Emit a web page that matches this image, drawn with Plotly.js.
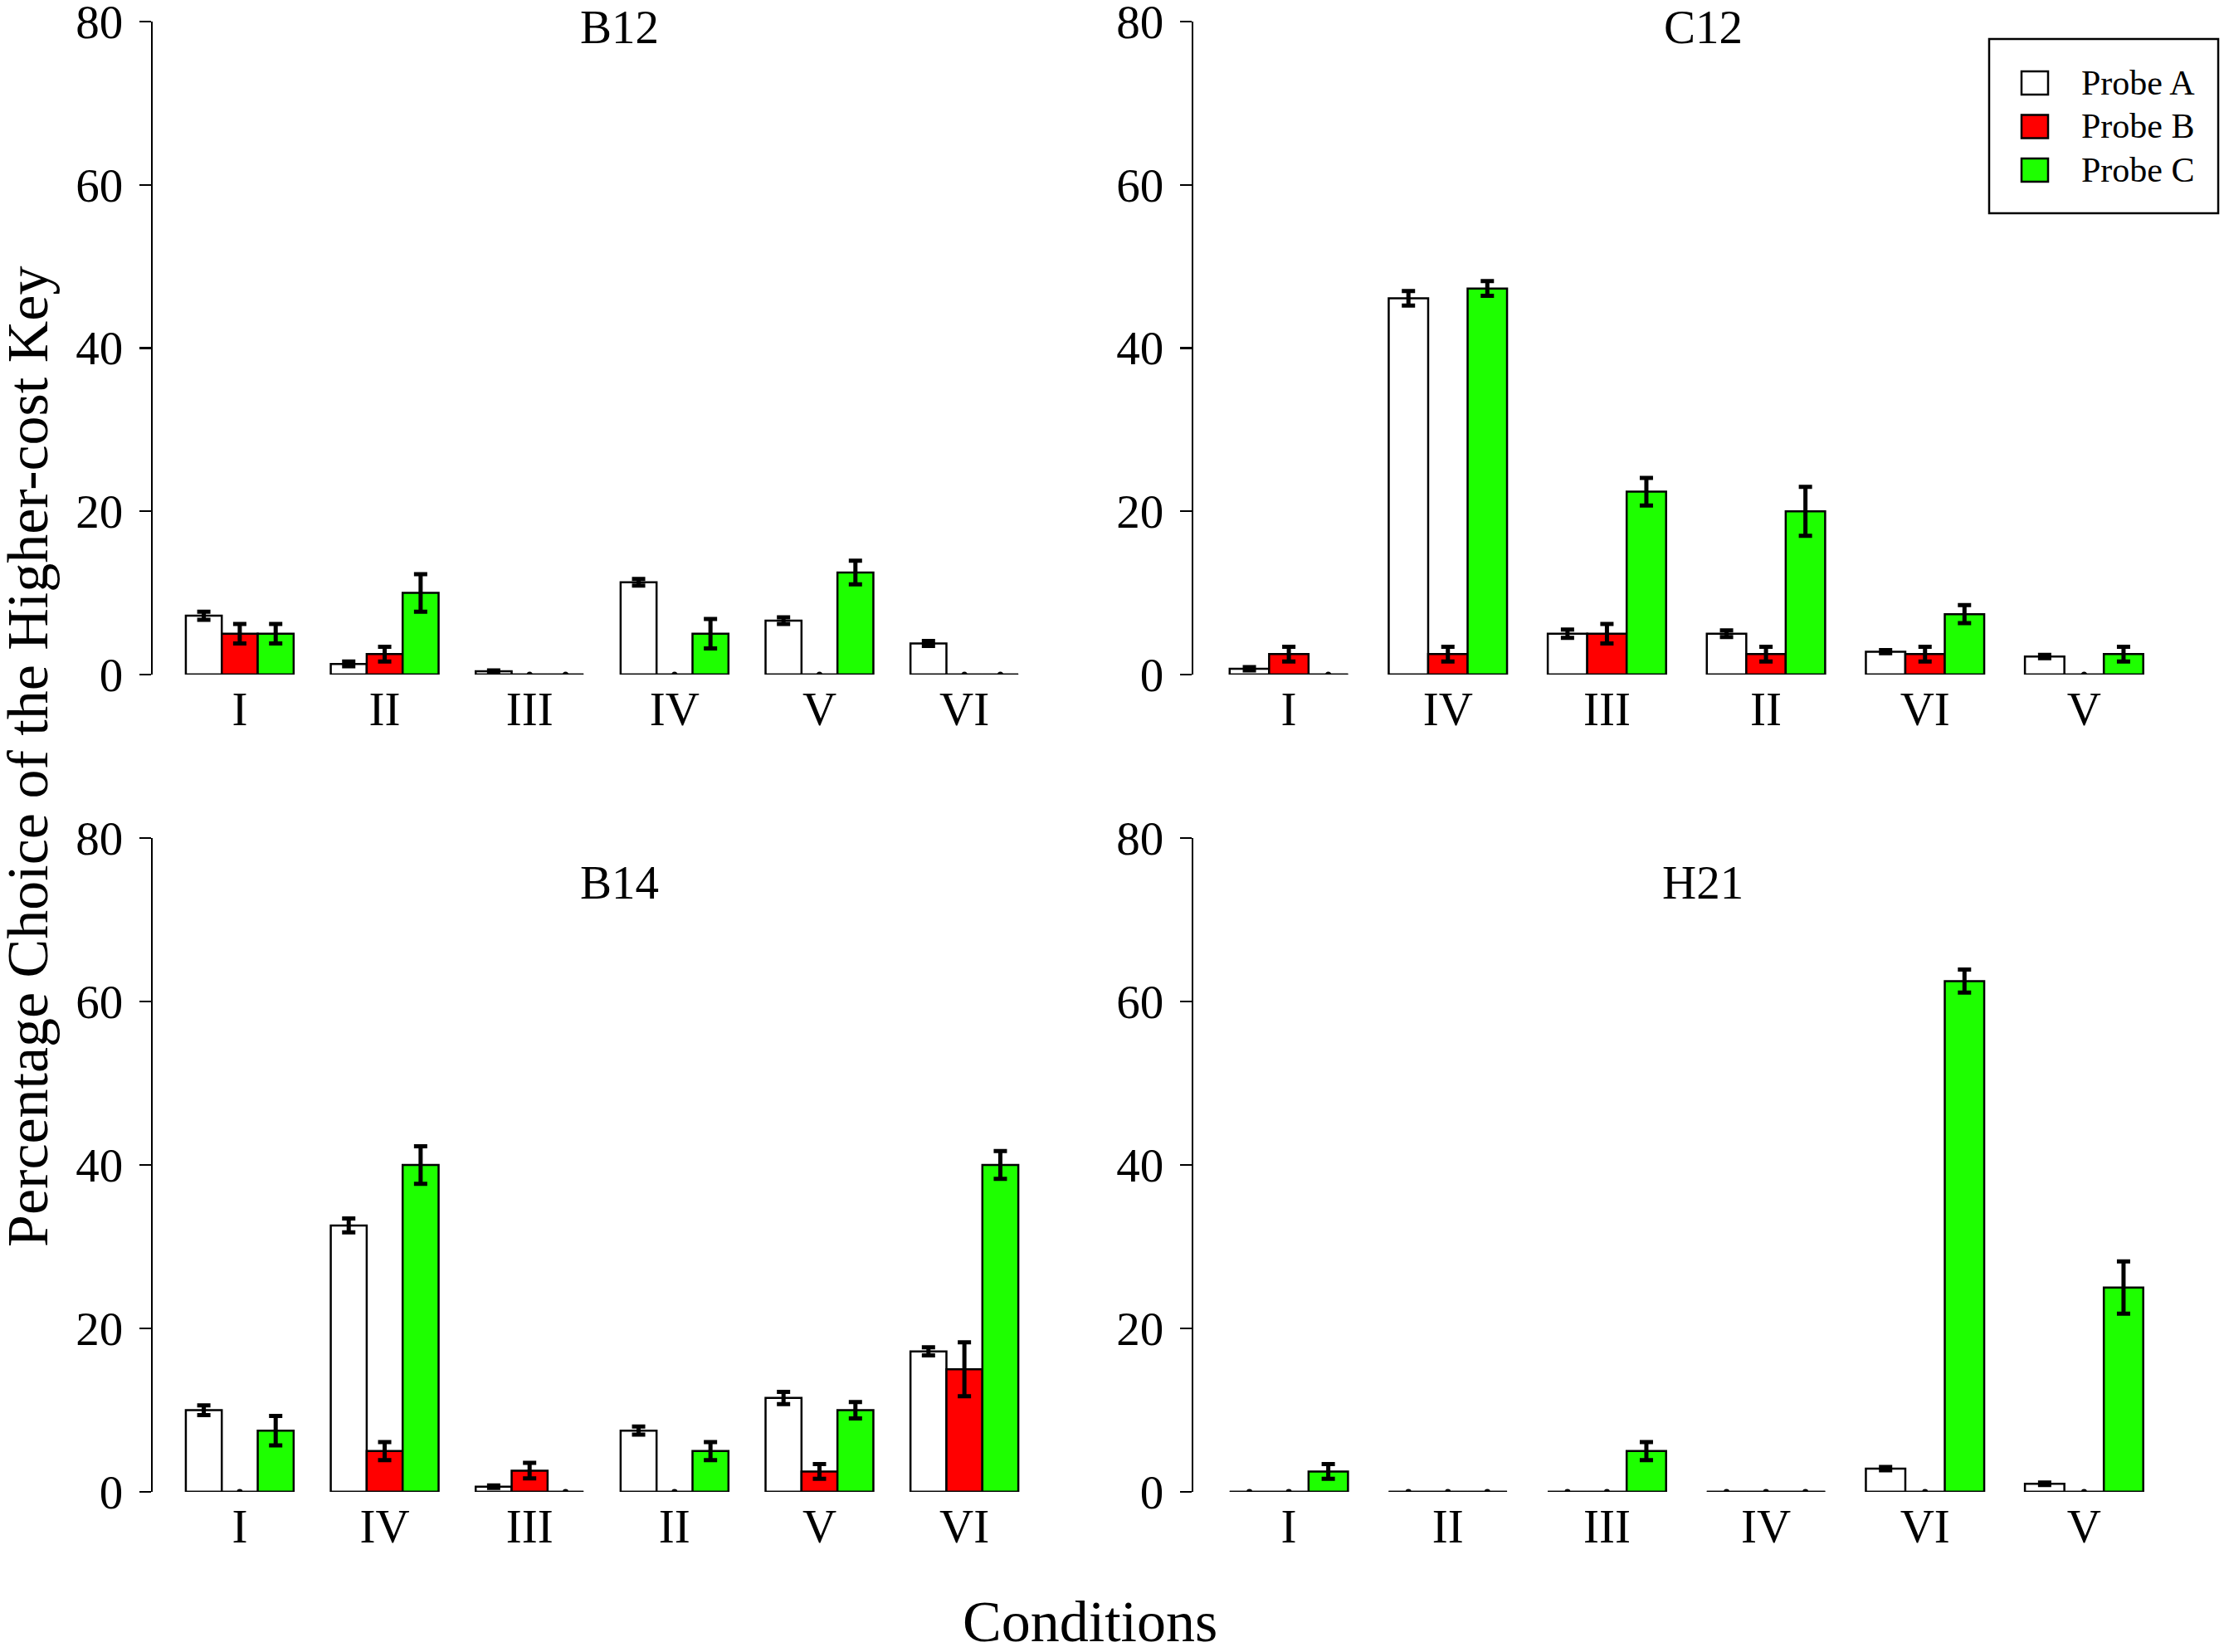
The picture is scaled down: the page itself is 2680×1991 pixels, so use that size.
<!DOCTYPE html>
<html>
<head>
<meta charset="utf-8">
<script src="https://cdn.plot.ly/plotly-3.0.1.min.js"></script>
<style>
  html, body { margin: 0; padding: 0; background: #fff; }
  #myDiv { width: 2680px; height: 1991px; }
</style>
</head>
<body>
<div id="myDiv"></div>
<script>
// probe series names and colours
var probeNames = ['Probe A', 'Probe B', 'Probe C'];
var probeColors = ['#ffffff', '#ff0000', '#1eff00'];

// B12
var b12Labels = ['I', 'II', 'III', 'IV', 'V', 'VI'];
var b12A = [7.2, 1.3, 0.4, 11.3, 6.6, 3.8];
var b12AErr = [0.5, 0.3, 0.1, 0.4, 0.4, 0.3];
var b12B = [5.0, 2.5, 0, 0, 0, 0];
var b12BErr = [1.2, 0.9, 0, 0, 0, 0];
var b12C = [5.0, 10.0, 0, 5.0, 12.5, 0];
var b12CErr = [1.2, 2.3, 0, 1.8, 1.45, 0];

// C12
var c12Labels = ['I', 'IV', 'III', 'II', 'VI', 'V'];
var c12A = [0.7, 46.1, 5.0, 5.0, 2.8, 2.2];
var c12AErr = [0.2, 0.9, 0.5, 0.4, 0.2, 0.2];
var c12B = [2.5, 2.5, 5.0, 2.5, 2.5, 0];
var c12BErr = [0.9, 0.9, 1.2, 0.9, 0.9, 0];
var c12C = [0, 47.3, 22.4, 20.0, 7.4, 2.5];
var c12CErr = [0, 0.9, 1.7, 3.0, 1.1, 0.9];

// B14
var b14Labels = ['I', 'IV', 'III', 'II', 'V', 'VI'];
var b14A = [10.0, 32.6, 0.65, 7.5, 11.5, 17.2];
var b14AErr = [0.6, 0.85, 0.15, 0.5, 0.75, 0.5];
var b14B = [0, 5.0, 2.6, 0, 2.5, 15.0];
var b14BErr = [0, 1.1, 0.95, 0, 0.9, 3.3];
var b14C = [7.5, 40.0, 0, 5.0, 10.0, 40.0];
var b14CErr = [1.8, 2.3, 0, 1.1, 1.0, 1.7];

// H21
var h21Labels = ['I', 'II', 'III', 'IV', 'VI', 'V'];
var h21A = [0, 0, 0, 0, 2.85, 1.0];
var h21AErr = [0, 0, 0, 0, 0.2, 0.15];
var h21B = [0, 0, 0, 0, 0, 0];
var h21BErr = [0, 0, 0, 0, 0, 0];
var h21C = [2.5, 0, 5.0, 0, 62.5, 25.0];
var h21CErr = [0.9, 0, 1.1, 0, 1.4, 3.2];

var FONT = 'Liberation Serif, Times New Roman, serif';
var barW = 0.248;
var offsets = [-barW, 0, barW];

var panels = [
  {name: 'B12', labels: b12Labels, vals: [b12A, b12B, b12C], errs: [b12AErr, b12BErr, b12CErr], ax: ''},
  {name: 'C12', labels: c12Labels, vals: [c12A, c12B, c12C], errs: [c12AErr, c12BErr, c12CErr], ax: '2'},
  {name: 'B14', labels: b14Labels, vals: [b14A, b14B, b14C], errs: [b14AErr, b14BErr, b14CErr], ax: '3'},
  {name: 'H21', labels: h21Labels, vals: [h21A, h21B, h21C], errs: [h21AErr, h21BErr, h21CErr], ax: '4'}
];

var data = [];
panels.forEach(function(p) {
  var xa = 'x' + p.ax, ya = 'y' + p.ax;
  var dotX = [], dotY = [];
  for (let s = 0; s < 3; s++) {
    let xs = p.labels.map(function(_, i) { return i + offsets[s]; });
    let errs = p.vals[s].map(function(v, i) { return v === 0 ? NaN : p.errs[s][i]; });
    p.vals[s].forEach(function(v, i) { if (v === 0) { dotX.push(xs[i]); dotY.push(0); } });
    data.push({
      type: 'bar', x: xs, y: p.vals[s], width: barW, name: probeNames[s],
      xaxis: xa, yaxis: ya, showlegend: false,
      marker: {color: probeColors[s], line: {color: '#000', width: 2.5}},
      error_y: {type: 'data', array: errs, visible: true, color: '#000', thickness: 5, width: 8}
    });
  }
  // flat baseline under each group
  var bx = [], by = [];
  p.labels.forEach(function(_, i) {
    bx.push(i - 1.5 * barW, i + 1.5 * barW, null);
    by.push(0, 0, null);
  });
  data.push({type: 'scatter', mode: 'lines', x: bx, y: by, xaxis: xa, yaxis: ya,
    showlegend: false, hoverinfo: 'skip', line: {color: '#000', width: 2.5}});
  data.push({type: 'scatter', mode: 'markers', x: dotX, y: dotY, xaxis: xa, yaxis: ya,
    showlegend: false, hoverinfo: 'skip', marker: {color: '#000', size: 7}});
});

var xDomains = [[0.0687, 0.4597], [0.5366, 0.9657], [0.0687, 0.4597], [0.5366, 0.9657]];
var yDomains = [[0.5917, 0.9869], [0.5917, 0.9869], [0.0969, 0.4927], [0.0969, 0.4927]];

var layout = {
  width: 2680, height: 1991,
  margin: {l: 0, r: 0, t: 0, b: 0},
  paper_bgcolor: '#fff', plot_bgcolor: '#fff',
  barmode: 'overlay',
  font: {family: FONT, color: '#000', size: 57},
  showlegend: false,
  annotations: [],
  shapes: []
};

panels.forEach(function(p, k) {
  layout['xaxis' + p.ax] = {
    domain: xDomains[k], range: [-0.6, 5.4], anchor: 'y' + p.ax,
    tickvals: p.labels.map(function(_, i) { return i; }), ticktext: p.labels,
    showline: false, showgrid: false, zeroline: false, ticks: '',
    tickfont: {family: FONT, size: 57}, ticklabelstandoff: 3
  };
  layout['yaxis' + p.ax] = {
    domain: yDomains[k], range: [0, 80], anchor: 'x' + p.ax,
    tickvals: [0, 20, 40, 60, 80], showline: true, linecolor: '#000', linewidth: 2.5,
    showgrid: false, zeroline: false, ticks: 'outside', ticklen: 14, tickwidth: 2.5, tickcolor: '#000',
    tickfont: {family: FONT, size: 57}, ticklabelstandoff: 8, ticklabeloverflow: 'allow'
  };
});

// panel titles
var titleX = [0.2787, 0.7657, 0.2787, 0.7657];
var titleY = [0.9838, 0.9838, 0.4659, 0.4659];
panels.forEach(function(p, k) {
  layout.annotations.push({text: p.name, xref: 'paper', yref: 'paper', x: titleX[k], y: titleY[k],
    xanchor: 'center', yanchor: 'middle', showarrow: false, font: {family: FONT, size: 57}});
});

// axis titles
layout.annotations.push({text: 'Conditions', xref: 'paper', yref: 'paper', x: 0.49, y: 0.0185,
  xanchor: 'center', yanchor: 'middle', showarrow: false, font: {family: FONT, size: 70}});
layout.annotations.push({text: 'Percentage Choice of the Higher-cost Key', xref: 'paper', yref: 'paper',
  x: 0.0127, y: 0.542, xanchor: 'center', yanchor: 'middle', textangle: -90, showarrow: false,
  font: {family: FONT, size: 70}});

// legend box (drawn by hand so the swatches can be as large as in the original)
var lgX0 = 0.8944, lgX1 = 0.9974, lgY0 = 0.8709, lgY1 = 0.9764;
layout.shapes.push({type: 'rect', xref: 'paper', yref: 'paper', x0: lgX0, x1: lgX1, y0: lgY0, y1: lgY1,
  line: {color: '#000', width: 2.5}, fillcolor: 'rgba(0,0,0,0)'});
var rowY = [1 - 100 / 1991, 1 - 152.5 / 1991, 1 - 205 / 1991];
probeNames.forEach(function(n, s) {
  layout.shapes.push({type: 'rect', xref: 'paper', yref: 'paper',
    x0: 2436 / 2680, x1: 2468 / 2680, y0: rowY[s] - 14 / 1991, y1: rowY[s] + 14 / 1991,
    line: {color: '#000', width: 2.5}, fillcolor: probeColors[s]});
  layout.annotations.push({text: n, xref: 'paper', yref: 'paper', x: 2506 / 2680, y: rowY[s],
    xanchor: 'left', yanchor: 'middle', showarrow: false, font: {family: FONT, size: 42}});
});

Plotly.newPlot('myDiv', data, layout, {staticPlot: true});
</script>
</body>
</html>
